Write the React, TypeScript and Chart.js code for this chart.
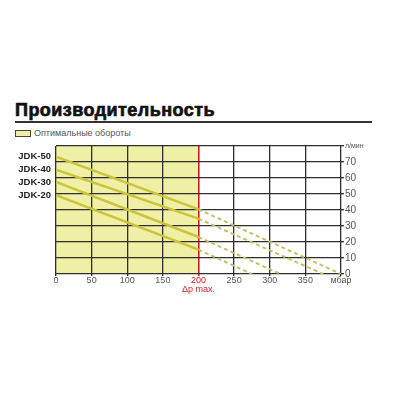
import React, { useEffect, useRef } from "react";
import { Chart, registerables } from "chart.js";

Chart.register(...registerables);

// Models (label shown at the left of each curve)
const models = ["JDK-50", "JDK-40", "JDK-30", "JDK-20"];

// Optimal range (solid curves): pressure in mbar, flow in l/min
const optimalPressure = [0, 200];
const jdk50Optimal = [73.3, 40.4];
const jdk40Optimal = [65.2, 34.6];
const jdk30Optimal = [57.5, 23.1];
const jdk20Optimal = [49.2, 15.2];

// Beyond the optimal range (dashed curves)
const jdk50ExtPressure = [200, 400];
const jdk50Ext = [40.4, 0];
const jdk40ExtPressure = [200, 375];
const jdk40Ext = [34.6, 0];
const jdk30ExtPressure = [200, 315];
const jdk30Ext = [23.1, 0];
const jdk20ExtPressure = [200, 275];
const jdk20Ext = [15.2, 0];

// Axes
const xMin = 0;
const xMax = 400;
const xStep = 50;
const optimalLimit = 200;
const xUnitLabel = "мбар";
const limitLabel = "Δp max.";
const yMin = 0;
const yMax = 80;
const yStep = 10;
const yUnitLabel = "л/мин";

const titleText = "Производительность";
const legendText = "Оптимальные обороты";

const FONT = "'Liberation Sans', Arial, sans-serif";
const SOLID = "#cbc43c";
const DASH = "#c2c266";
const FILL = "#efefa6";
const GRID = "#2e2e2e";
const RED = "#cc2020";

const pts = (xs: number[], ys: number[]) => xs.map((x, i) => ({ x, y: ys[i] }));

export default function App() {
  const ref = useRef<HTMLCanvasElement | null>(null);

  useEffect(() => {
    const canvas = ref.current;
    if (!canvas) return;

    const optimalSeries = [jdk50Optimal, jdk40Optimal, jdk30Optimal, jdk20Optimal];
    const extPressures = [jdk50ExtPressure, jdk40ExtPressure, jdk30ExtPressure, jdk20ExtPressure];
    const extSeries = [jdk50Ext, jdk40Ext, jdk30Ext, jdk20Ext];

    const datasets: any[] = [];
    models.forEach((m, i) => {
      datasets.push({
        label: m,
        data: pts(extPressures[i], extSeries[i]),
        borderColor: DASH,
        borderWidth: 2,
        borderDash: [4, 3],
        pointRadius: 0,
        fill: false,
        tension: 0,
        showModelLabel: false,
      });
    });
    models.forEach((m, i) => {
      datasets.push({
        label: m,
        data: pts(optimalPressure, optimalSeries[i]),
        borderColor: SOLID,
        borderWidth: 2.5,
        pointRadius: 0,
        fill: false,
        tension: 0,
        showModelLabel: true,
      });
    });

    const zonePlugin = {
      id: "optimalZone",
      beforeDraw(chart: any) {
        const { ctx, scales } = chart;
        const x0 = scales.x.getPixelForValue(xMin);
        const x1 = scales.x.getPixelForValue(optimalLimit);
        const y0 = scales.y.getPixelForValue(yMax);
        const y1 = scales.y.getPixelForValue(yMin);
        ctx.save();
        ctx.fillStyle = FILL;
        ctx.fillRect(x0, y0, x1 - x0, y1 - y0);
        ctx.restore();
      },
    };

    const modelLabelPlugin = {
      id: "modelLabels",
      afterDatasetsDraw(chart: any) {
        const { ctx, chartArea } = chart;
        ctx.save();
        ctx.font = `bold 9.5px ${FONT}`;
        ctx.fillStyle = "#222";
        ctx.textAlign = "right";
        ctx.textBaseline = "middle";
        chart.data.datasets.forEach((ds: any, i: number) => {
          if (!ds.showModelLabel) return;
          const meta = chart.getDatasetMeta(i);
          const p = meta.data[0];
          if (!p) return;
          ctx.fillText(ds.label, chartArea.left - 5, p.y);
        });
        ctx.restore();
      },
    };

    const chart = new Chart(canvas, {
      type: "line",
      data: { datasets },
      options: {
        animation: false,
        responsive: false,
        maintainAspectRatio: false,
        layout: { padding: { left: 56, top: 146, right: 0, bottom: 0 } },
        plugins: {
          legend: { display: false },
          title: { display: false },
          tooltip: { enabled: false },
        },
        scales: {
          x: {
            type: "linear",
            min: xMin,
            max: xMax,
            position: "bottom",
            afterFit(scale: any) {
              scale.height = 126;
            },
            border: { display: false },
            grid: {
              color: (c: any) => (c.tick && c.tick.value === optimalLimit ? RED : GRID),
              lineWidth: (c: any) => (c.tick && c.tick.value === optimalLimit ? 1.6 : 1.3),
              tickLength: 2,
            },
            ticks: {
              stepSize: xStep,
              padding: 0,
              maxRotation: 0,
              autoSkip: false,
              font: { family: FONT, size: 9, lineHeight: 1 },
              color: (c: any) => (c.tick && c.tick.value === optimalLimit ? RED : "#555"),
              callback: (v: any) => {
                if (v === xMax) return xUnitLabel;
                if (v === optimalLimit) return [String(v), limitLabel];
                return String(v);
              },
            },
          },
          y: {
            type: "linear",
            min: yMin,
            max: yMax,
            position: "right",
            afterFit(scale: any) {
              scale.width = 59;
            },
            border: { display: false },
            grid: { color: GRID, lineWidth: 1.3, tickLength: 3 },
            ticks: {
              stepSize: yStep,
              padding: 1,
              color: "#555",
              font: (c: any) =>
                c.tick && c.tick.value === yMax
                  ? { family: FONT, size: 7 }
                  : { family: FONT, size: 10 },
              callback: (v: any) => (v === yMax ? yUnitLabel : String(v)),
            },
          },
        },
      },
      plugins: [zonePlugin, modelLabelPlugin],
    } as any);

    return () => chart.destroy();
  }, []);

  return (
    <div
      style={{
        position: "fixed",
        left: 0,
        top: 0,
        width: 400,
        height: 400,
        background: "#fff",
        overflow: "hidden",
      }}
    >
      <div
        style={{
          position: "absolute",
          left: 15,
          top: 101,
          font: `bold 18px ${FONT}`,
          lineHeight: "18px",
          letterSpacing: "0.45px",
          color: "#111",
          WebkitTextStroke: "0.7px #111",
          whiteSpace: "nowrap",
        }}
      >
        {titleText}
      </div>
      <div
        style={{
          position: "absolute",
          left: 15,
          top: 121,
          width: 357,
          height: 2,
          background: "#333",
        }}
      />
      <div
        style={{
          position: "absolute",
          left: 15,
          top: 130,
          width: 16,
          height: 7,
          boxSizing: "border-box",
          border: "1px solid #444",
          background: FILL,
        }}
      />
      <div
        style={{
          position: "absolute",
          left: 34,
          top: 129,
          font: `9px ${FONT}`,
          lineHeight: "9px",
          color: "#555",
          whiteSpace: "nowrap",
        }}
      >
        {legendText}
      </div>
      <canvas
        ref={ref}
        width={400}
        height={400}
        style={{ position: "absolute", left: 0, top: 0, width: 400, height: 400 }}
      />
    </div>
  );
}
